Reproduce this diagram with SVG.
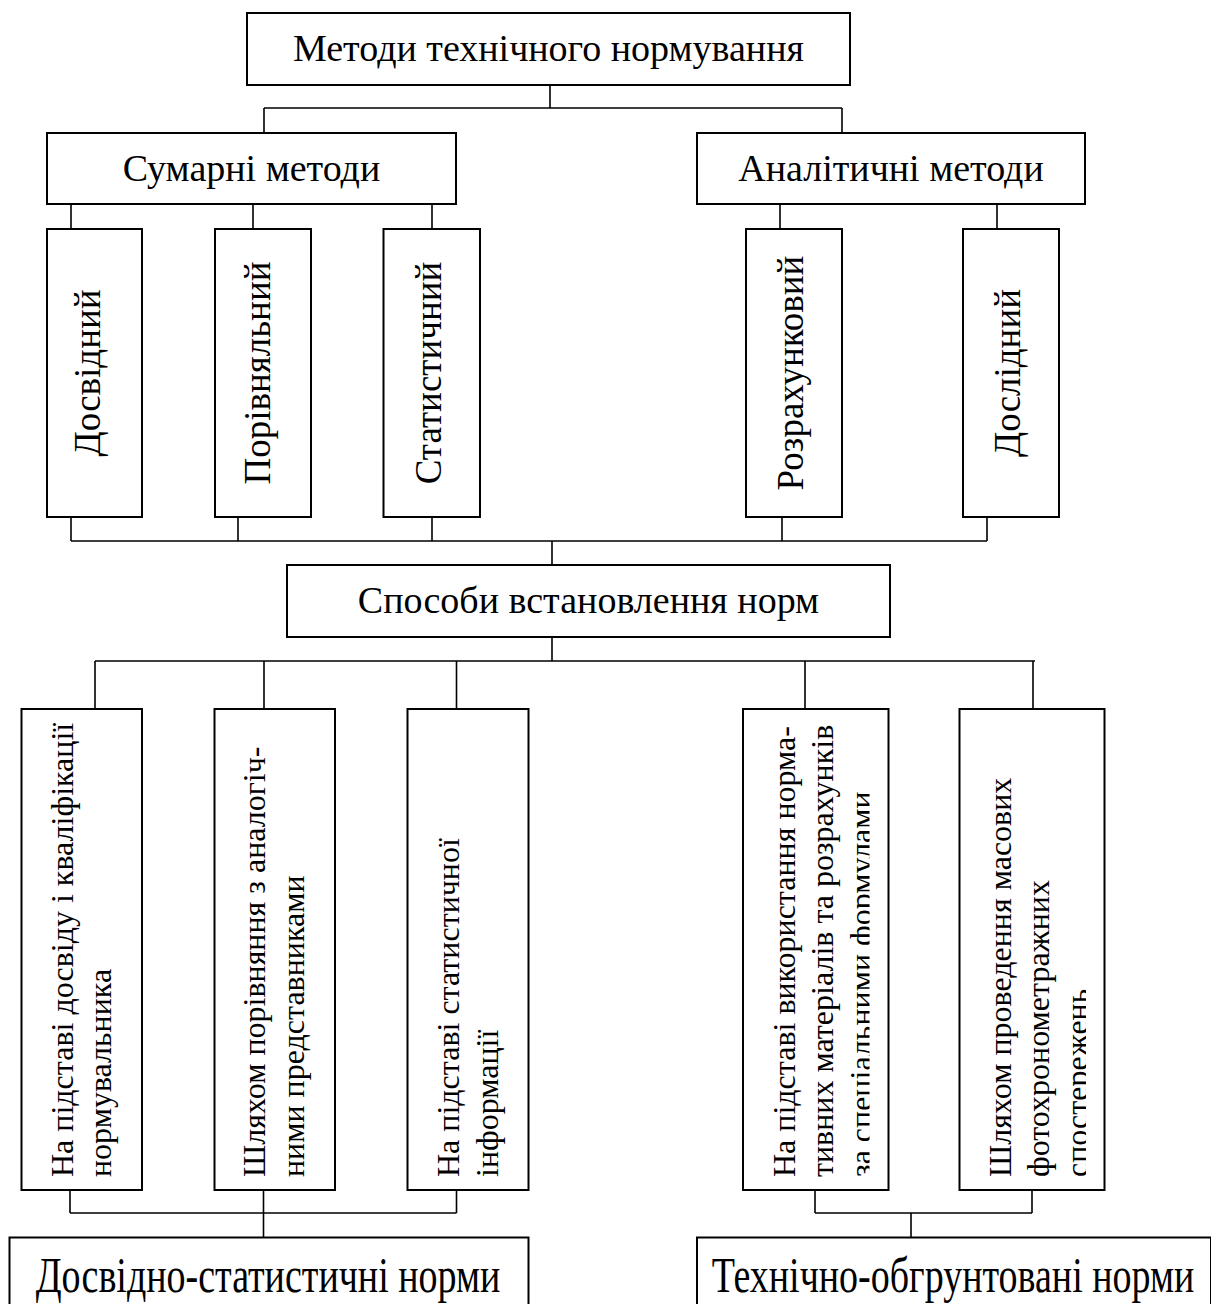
<svg xmlns="http://www.w3.org/2000/svg" width="1211" height="1304" viewBox="0 0 1211 1304">
<style>
.box{fill:#fff;stroke:#000;stroke-width:2}
.ln{fill:none;stroke:#000;stroke-width:1.6}
.t{font-family:"Liberation Serif","Times New Roman",serif;fill:#000}
.h{font-size:38px;text-anchor:middle}
.v{font-size:37px;text-anchor:middle}
.s{font-size:32px}
</style>
<defs>
<clipPath id="cd"><rect x="740" y="700" width="129.5" height="500"/></clipPath>
<clipPath id="ce"><rect x="955" y="700" width="131" height="500"/></clipPath>
</defs>
<g id="connectors">
<path class="ln" d="M550 85V108M264 108H842M264 108V133M842 108V133"/>
<path class="ln" d="M71 204V229M253 204V229M432 204V229M780 204V229M997 204V229"/>
<path class="ln" d="M71 517V541M238 517V541M432 517V541M782 517V541M987 517V541M71 541H987M552 541V565"/>
<path class="ln" d="M552 637V661M95 661H1035M95 661V709M264 661V709M456.5 661V709M805 661V709M1033 661V709"/>
<path class="ln" d="M70 1190V1213M263.5 1190V1213M456.5 1190V1213M70 1213H456.5M263.5 1213V1237"/>
<path class="ln" d="M815 1190V1213M1032 1190V1213M815 1213H1032M911 1213V1237"/>
</g>
<g id="n-methods"><rect class="box" x="247" y="13" width="603" height="72"/><text class="t h" x="548.5" y="61">Методи технічного нормування</text></g>
<g id="n-sum"><rect class="box" x="47" y="133" width="409" height="71"/><text class="t h" x="251.5" y="181">Сумарні методи</text></g>
<g id="n-anal"><rect class="box" x="697" y="133" width="388" height="71"/><text class="t h" x="891" y="181">Аналітичні методи</text></g>
<g id="n-dosv"><rect class="box" x="47" y="229" width="95" height="288"/><text class="t v" transform="translate(100,373) rotate(-90)">Досвідний</text></g>
<g id="n-poriv"><rect class="box" x="215" y="229" width="96" height="288"/><text class="t v" transform="translate(270,373) rotate(-90)">Порівняльний</text></g>
<g id="n-stat"><rect class="box" x="383.5" y="229" width="96.5" height="288"/><text class="t v" transform="translate(441,373) rotate(-90)">Статистичний</text></g>
<g id="n-rozr"><rect class="box" x="746" y="229" width="96" height="288"/><text class="t v" transform="translate(803,373) rotate(-90)">Розрахунковий</text></g>
<g id="n-dosl"><rect class="box" x="963" y="229" width="96" height="288"/><text class="t v" transform="translate(1020,373) rotate(-90)">Дослідний</text></g>
<g id="n-sposoby"><rect class="box" x="287" y="565" width="603" height="72"/><text class="t h" x="588.5" y="613">Способи встановлення норм</text></g>
<g id="n-a"><rect class="box" x="21.5" y="709" width="120.5" height="481"/>
<text class="t s" transform="translate(72.5,1177) rotate(-90)">На підставі досвіду і кваліфікації</text>
<text class="t s" transform="translate(111,1177) rotate(-90)">нормувальника</text></g>
<g id="n-b"><rect class="box" x="214.5" y="709" width="120.5" height="481"/>
<text class="t s" transform="translate(265,1177) rotate(-90)">Шляхом порівняння з аналогіч-</text>
<text class="t s" transform="translate(304,1177) rotate(-90)">ними представниками</text></g>
<g id="n-c"><rect class="box" x="407.5" y="709" width="121" height="481"/>
<text class="t s" transform="translate(459,1177) rotate(-90)">На підставі статистичної</text>
<text class="t s" transform="translate(498,1177) rotate(-90)">інформації</text></g>
<g id="n-d"><rect class="box" x="743" y="709" width="145.5" height="481"/>
<text class="t s" transform="translate(794.5,1177) rotate(-90)">На підставі використання норма-</text>
<text class="t s" transform="translate(833,1177) rotate(-90)">тивних матеріалів та розрахунків</text>
<g clip-path="url(#cd)"><text class="t s" transform="translate(871.5,1177) rotate(-90)">за спеціальними формулами</text></g></g>
<g id="n-e"><rect class="box" x="959.5" y="709" width="145" height="481"/>
<text class="t s" transform="translate(1010.5,1177) rotate(-90)">Шляхом проведення масових</text>
<text class="t s" transform="translate(1049,1177) rotate(-90)">фотохронометражних</text>
<g clip-path="url(#ce)"><text class="t s" transform="translate(1087.5,1177) rotate(-90)">спостережень</text></g></g>
<g id="n-ds"><rect class="box" x="9.5" y="1237.5" width="519" height="80"/><text class="t h" transform="translate(268,1292) scale(1,1.35)">Досвідно-статистичні норми</text></g>
<g id="n-to"><rect class="box" x="697" y="1237.5" width="514" height="80"/><text class="t h" transform="translate(953,1292) scale(1,1.35)">Технічно-обгрунтовані норми</text></g>
</svg>
